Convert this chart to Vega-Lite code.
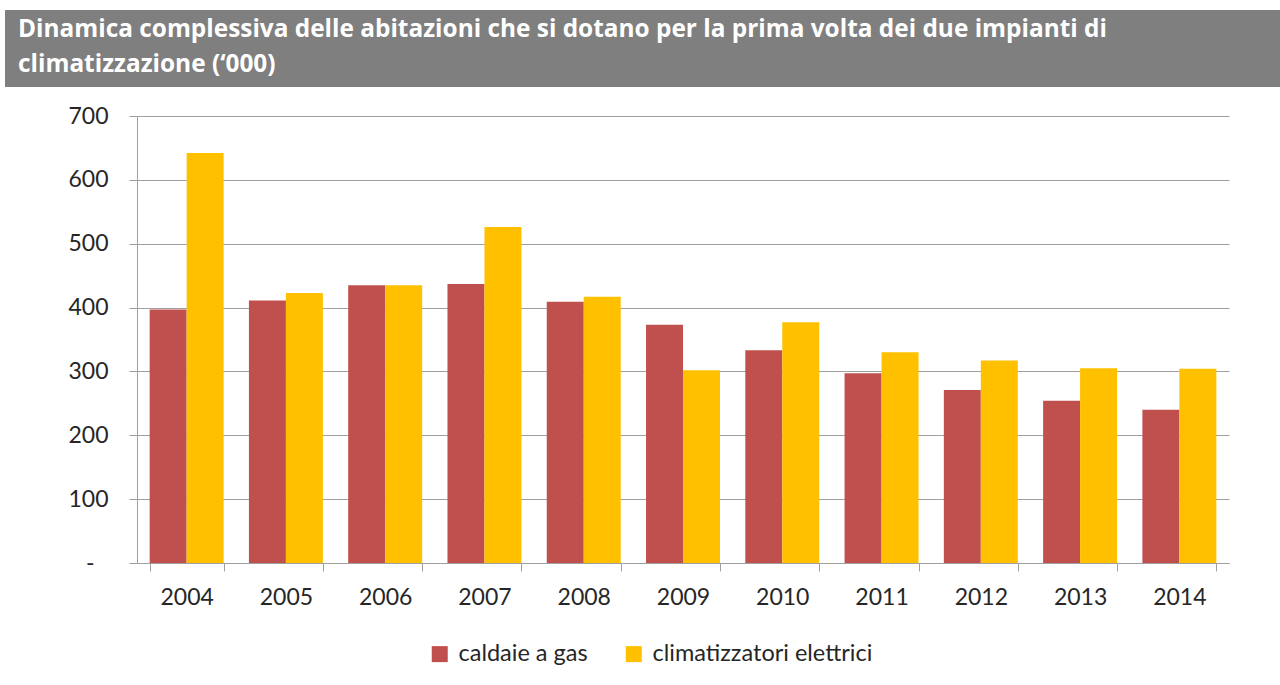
{
  "$schema": "https://vega.github.io/schema/vega-lite/v6.json",
  "padding": {"left": 5, "top": 10, "right": 0, "bottom": 0},
  "background": "white",
  "config": {"view": {"stroke": null}, "font": "Lato"},
  "datasets": {
    "titolo": [
      {"riga": 1, "testo": "Dinamica complessiva delle abitazioni che si dotano per la prima volta dei due impianti di"},
      {"riga": 2, "testo": "climatizzazione (‘000)"}
    ],
    "dati": [
      {"anno": "2004", "serie": "caldaie a gas", "valore": 397},
      {"anno": "2004", "serie": "climatizzatori elettrici", "valore": 642},
      {"anno": "2005", "serie": "caldaie a gas", "valore": 411},
      {"anno": "2005", "serie": "climatizzatori elettrici", "valore": 423},
      {"anno": "2006", "serie": "caldaie a gas", "valore": 435},
      {"anno": "2006", "serie": "climatizzatori elettrici", "valore": 435},
      {"anno": "2007", "serie": "caldaie a gas", "valore": 437},
      {"anno": "2007", "serie": "climatizzatori elettrici", "valore": 526},
      {"anno": "2008", "serie": "caldaie a gas", "valore": 409},
      {"anno": "2008", "serie": "climatizzatori elettrici", "valore": 417},
      {"anno": "2009", "serie": "caldaie a gas", "valore": 373},
      {"anno": "2009", "serie": "climatizzatori elettrici", "valore": 302},
      {"anno": "2010", "serie": "caldaie a gas", "valore": 333},
      {"anno": "2010", "serie": "climatizzatori elettrici", "valore": 377},
      {"anno": "2011", "serie": "caldaie a gas", "valore": 297},
      {"anno": "2011", "serie": "climatizzatori elettrici", "valore": 330},
      {"anno": "2012", "serie": "caldaie a gas", "valore": 271},
      {"anno": "2012", "serie": "climatizzatori elettrici", "valore": 317},
      {"anno": "2013", "serie": "caldaie a gas", "valore": 254},
      {"anno": "2013", "serie": "climatizzatori elettrici", "valore": 305},
      {"anno": "2014", "serie": "caldaie a gas", "valore": 240},
      {"anno": "2014", "serie": "climatizzatori elettrici", "valore": 304}
    ]
  },
  "columns": 1,
  "spacing": 18,
  "concat": [
    {
      "width": 1275,
      "height": 77,
      "view": {"fill": "#7f7f7f", "stroke": null},
      "data": {"name": "titolo"},
      "mark": {"type": "text", "align": "left", "baseline": "alphabetic", "dx": 13, "dy": 6, "font": "Open Sans", "fontWeight": "bold", "fontSize": 24.4, "color": "white"},
      "encoding": {
        "x": {"datum": 0, "type": "quantitative", "scale": {"domain": [0, 1]}, "axis": null},
        "y": {"field": "riga", "type": "ordinal", "axis": null, "scale": {"padding": 0.586}},
        "text": {"field": "testo"}
      }
    },
    {
      "width": 1205,
      "height": 447,
      "data": {"name": "dati"},
      "mark": {"type": "bar"},
      "encoding": {
        "x": {
          "field": "anno", "type": "nominal",
          "scale": {"range": [132, 1224], "paddingInner": 0.255, "paddingOuter": 0.1275},
          "axis": {"title": null, "labelAngle": 0, "tickBand": "extent", "tickSize": 8, "tickColor": "#a0a0a0", "domainColor": "#a0a0a0", "labelFontSize": 23, "labelColor": "#262626", "labelPadding": 15, "grid": false}
        },
        "xOffset": {"field": "serie", "type": "nominal", "scale": {"paddingInner": 0}},
        "y": {
          "field": "valore", "type": "quantitative",
          "scale": {"domain": [0, 700], "nice": false},
          "axis": {"title": null, "offset": -132, "values": [0, 100, 200, 300, 400, 500, 600, 700], "tickSize": 8, "tickColor": "#a0a0a0", "domainColor": "#a0a0a0", "gridColor": "#a0a0a0", "gridWidth": 1.2, "labelFontSize": 23, "labelColor": "#262626", "labelPadding": {"condition": {"test": "datum.value == 0", "value": 35}, "value": 21}, "labelExpr": "datum.value == 0 ? '-' : datum.label"}
        },
        "color": {
          "field": "serie", "type": "nominal",
          "scale": {"domain": ["caldaie a gas", "climatizzatori elettrici"], "range": ["#C0504D", "#FFC000"]},
          "legend": {"title": null, "orient": "none", "legendX": 423, "legendY": 632, "direction": "horizontal", "symbolType": "square", "symbolSize": 256, "symbolStrokeWidth": 0, "symbolOpacity": 1, "labelFontSize": 23.5, "labelOffset": 7, "columnPadding": 34, "labelColor": "#262626", "labelLimit": 400}
        }
      }
    }
  ]
}
